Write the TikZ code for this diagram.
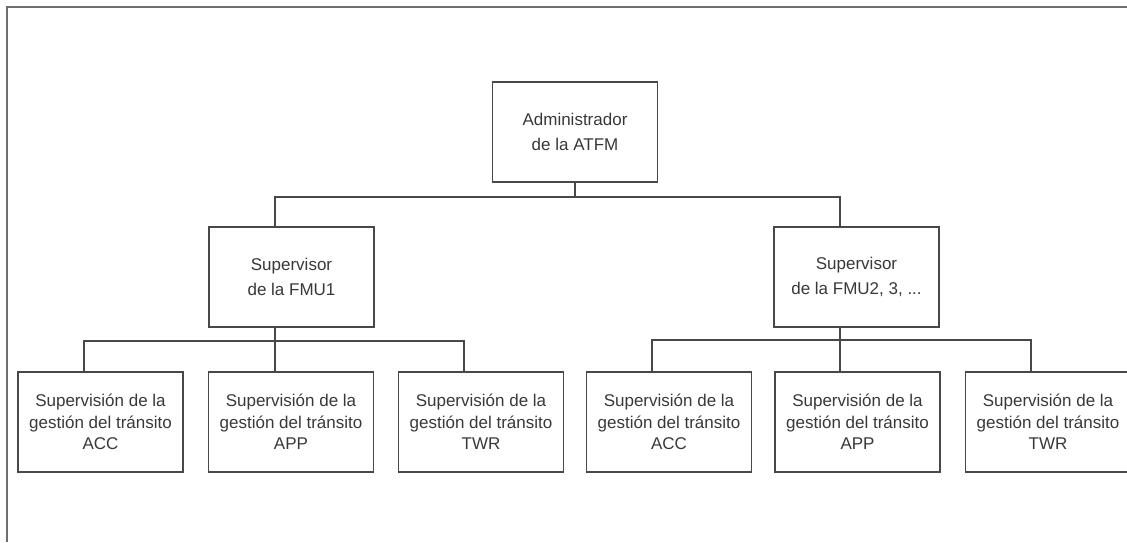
\documentclass[tikz,border=0pt]{standalone}
\usepackage{fontspec}
\setmainfont{Liberation Sans}
\usetikzlibrary{calc}
\definecolor{boxgray}{HTML}{484848}
\definecolor{textgray}{HTML}{383838}
\definecolor{framegray}{HTML}{6E6E6E}
\tikzset{
	box/.style={draw=boxgray, line width=1.8pt, minimum width=165pt, minimum height=100pt, inner sep=0pt, align=center, text=textgray, font={\fontsize{17}{21.5}\selectfont}},
	headbox/.style={box, font={\fontsize{17}{25}\selectfont}},
	link/.style={boxgray, line width=1.8pt},
}
\begin{document}
\begin{tikzpicture}[x=1pt, y=-1pt]
		\useasboundingbox (0,0) rectangle (1127,542);
		% FRAME
		\draw[framegray, line width=2.2pt] (7,542) -- (7,7) -- (1127,7);

		% ADMINISTRADOR
		\node[headbox] (adm) at (575,132) {Administrador\\de la ATFM};

		% SUPERVISORES FMU
		\node[headbox] (fmuA) at (291.5,277) {Supervisor\\de la FMU1};
		\node[headbox] (fmuB) at (856.5,277) {Supervisor\\de la FMU2, 3, ...};

		% SUPERVISION FMU1
		\node[box] (accA) at (100.5,422) {Supervisión de la\\gestión del tránsito\\ACC};
		\node[box] (appA) at (291,422) {Supervisión de la\\gestión del tránsito\\APP};
		\node[box] (twrA) at (481,422) {Supervisión de la\\gestión del tránsito\\TWR};

		% SUPERVISION FMU2, 3, ...
		\node[box] (accB) at (669,422) {Supervisión de la\\gestión del tránsito\\ACC};
		\node[box] (appB) at (857.5,422) {Supervisión de la\\gestión del tránsito\\APP};
		\node[box] (twrB) at (1048,422) {Supervisión de la\\gestión del tránsito\\TWR};

		% CONNECTORS
		\foreach \n in {fmuA,fmuB,accA,appA,twrA,accB,appB,twrB}
			\coordinate (\n-top) at ($(\n.north west)!0.4!(\n.north east)$);
		\foreach \n in {fmuA,fmuB}
			\coordinate (\n-bot) at ($(\n.south west)!0.4!(\n.south east)$);

		\coordinate (busTop) at ($(adm.south)+(0,14)$);
		\draw[link] (adm.south) -- (busTop);
		\draw[link] (fmuA-top) |- (busTop) -| (fmuB-top);

		\coordinate (busA) at ($(fmuA-bot)+(0,13)$);
		\draw[link] (fmuA-bot) -- (busA) -- (busA |- appA-top);
		\draw[link] (accA-top) |- (busA) -| (twrA-top);

		\coordinate (busB) at ($(fmuB-bot)+(0,12)$);
		\draw[link] (fmuB-bot) -- (busB) -- (busB |- appB-top);
		\draw[link] (accB-top) |- (busB) -| (twrB-top);
	\end{tikzpicture}
\end{document}
